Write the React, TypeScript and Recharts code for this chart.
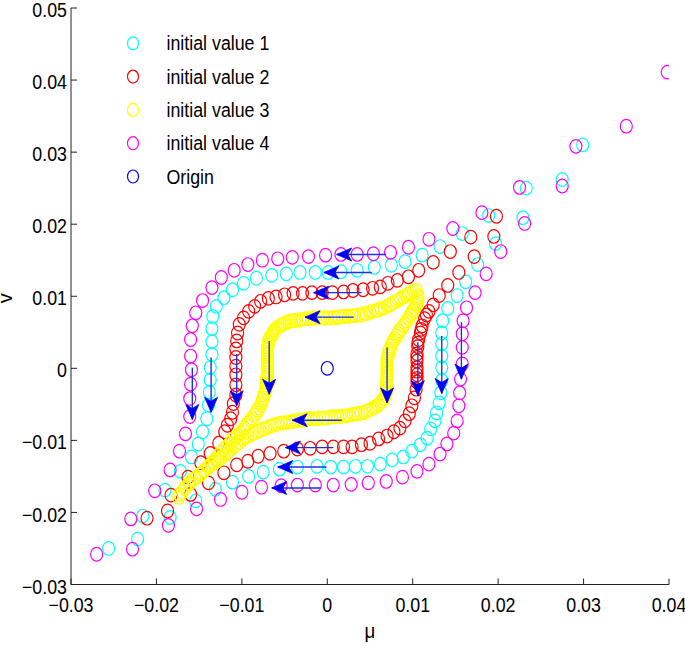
import React from 'react';
import { ScatterChart, Scatter, XAxis, YAxis, Legend } from 'recharts';

const xTicks = [-0.03, -0.02, -0.01, 0, 0.01, 0.02, 0.03, 0.04];
const xTickLabels = ['\u22120.03', '\u22120.02', '\u22120.01', '0', '0.01', '0.02', '0.03', '0.04'];
const yTicks = [-0.03, -0.02, -0.01, 0, 0.01, 0.02, 0.03, 0.04, 0.05];
const yTickLabels = ['\u22120.03', '\u22120.02', '\u22120.01', '0', '0.01', '0.02', '0.03', '0.04', '0.05'];

// initial value 1 (cyan)
const iv1: [number, number][] = [
  [0.0299, 0.0310], [0.0275, 0.0262], [0.0233, 0.0250], [0.0229, 0.0209], [0.0189, 0.0212], [0.0197, 0.0173],
  [0.0158, 0.0187], [0.0176, 0.0144], [0.0132, 0.0169], [0.0162, 0.0120], [0.0111, 0.0157], [0.0152, 0.0101],
  [0.0091, 0.0148],
  [0.0075, 0.0143], [0.0055, 0.0140], [0.0035, 0.0136], [0.0016, 0.0134], [0.0001, 0.0133], [-0.0014, 0.0133],
  [-0.0032, 0.0133], [-0.0048, 0.0131], [-0.0065, 0.0129], [-0.0083, 0.0125], [-0.0098, 0.0118], [-0.0111, 0.0109],
  [-0.0121, 0.0098], [-0.0130, 0.0086], [-0.0134, 0.0072], [-0.0135, 0.0055], [-0.0135, 0.0037], [-0.0135, 0.0019],
  [-0.0137, 0.0001], [-0.0137, -0.0016], [-0.0138, -0.0033], [-0.0139, -0.0051], [-0.0141, -0.0070], [-0.0146, -0.0088],
  [-0.0151, -0.0105], [-0.0159, -0.0123], [-0.0172, -0.0143], [-0.0190, -0.0169], [-0.0216, -0.0205], [-0.0256, -0.0250],
  [-0.0222, -0.0237], [-0.0184, -0.0207], [-0.0154, -0.0184], [-0.0131, -0.0168], [-0.0111, -0.0158], [-0.0092, -0.0150],
  [-0.0075, -0.0144], [-0.0056, -0.0140], [-0.0035, -0.0137], [-0.0012, -0.0136], [0.0004, -0.0137], [0.0019, -0.0137],
  [0.0033, -0.0136], [0.0047, -0.0136], [0.0062, -0.0133], [0.0076, -0.0127], [0.0089, -0.0123], [0.0099, -0.0115],
  [0.0109, -0.0106], [0.0117, -0.0097], [0.0121, -0.0084], [0.0126, -0.0073], [0.0128, -0.0062], [0.0131, -0.0048],
  [0.0133, -0.0034], [0.0134, -0.0017], [0.0134, 0.0001], [0.0134, 0.0017], [0.0134, 0.0034], [0.0134, 0.0049],
  [0.0135, 0.0066], [0.0141, 0.0083],
];

// initial value 2 (red)
const iv2: [number, number][] = [
  [0.0198, 0.0211], [0.0195, 0.0183], [0.0168, 0.0182], [0.0172, 0.0155], [0.0144, 0.0162], [0.0154, 0.0133],
  [0.0124, 0.0147], [0.0141, 0.0115], [0.0107, 0.0136], [0.0131, 0.0101], [0.0095, 0.0127],
  [0.0082, 0.0122], [0.0071, 0.0118], [0.0062, 0.0113], [0.0053, 0.0111], [0.0042, 0.0109], [0.0030, 0.0108],
  [0.0019, 0.0106], [0.0006, 0.0105], [-0.0006, 0.0105], [-0.0018, 0.0105], [-0.0029, 0.0104], [-0.0040, 0.0104],
  [-0.0050, 0.0102], [-0.0060, 0.0099], [-0.0069, 0.0097], [-0.0078, 0.0093], [-0.0085, 0.0086], [-0.0092, 0.0079],
  [-0.0098, 0.0070], [-0.0103, 0.0061], [-0.0105, 0.0049], [-0.0106, 0.0038], [-0.0107, 0.0027], [-0.0107, 0.0015],
  [-0.0107, 0.0003], [-0.0107, -0.0009], [-0.0107, -0.0023], [-0.0107, -0.0037], [-0.0110, -0.0049], [-0.0111, -0.0061],
  [-0.0113, -0.0070], [-0.0117, -0.0079], [-0.0120, -0.0088], [-0.0127, -0.0104], [-0.0137, -0.0118], [-0.0148, -0.0131],
  [-0.0163, -0.0151], [-0.0183, -0.0176], [-0.0211, -0.0208],
  [-0.0187, -0.0198], [-0.0160, -0.0175], [-0.0139, -0.0159], [-0.0121, -0.0145], [-0.0106, -0.0134], [-0.0093, -0.0129],
  [-0.0081, -0.0122], [-0.0067, -0.0118], [-0.0051, -0.0115], [-0.0035, -0.0112], [-0.0020, -0.0111], [-0.0006, -0.0109],
  [0.0007, -0.0109], [0.0019, -0.0109], [0.0029, -0.0109], [0.0040, -0.0106], [0.0050, -0.0104], [0.0060, -0.0098],
  [0.0070, -0.0094], [0.0078, -0.0088], [0.0085, -0.0083], [0.0091, -0.0073], [0.0096, -0.0063], [0.0099, -0.0052],
  [0.0102, -0.0041], [0.0104, -0.0029], [0.0105, -0.0019], [0.0105, -0.0009], [0.0105, 0.0001], [0.0105, 0.0010],
  [0.0105, 0.0020], [0.0106, 0.0030], [0.0107, 0.0040], [0.0109, 0.0049], [0.0111, 0.0059], [0.0114, 0.0069],
  [0.0119, 0.0079], [0.0124, 0.0088],
  [0.0105, -0.0014], [0.0105, -0.0004], [0.0105, 0.0015], [0.0106, 0.0035], [0.0110, 0.0054], [0.0116, 0.0074],
];

// initial value 3 (yellow)
const iv3: [number, number][] = [
  [0.0104, 0.0108], [0.0098, 0.0105], [0.0092, 0.0101], [0.0086, 0.0097], [0.0081, 0.0093], [0.0074, 0.0088],
  [0.0067, 0.0084], [0.0060, 0.0081], [0.0053, 0.0079], [0.0046, 0.0076], [0.0039, 0.0074], [0.0032, 0.0073],
  [0.0025, 0.0072], [0.0018, 0.0072], [0.0011, 0.0070], [0.0004, 0.0070], [-0.0004, 0.0070], [-0.0011, 0.0070],
  [-0.0018, 0.0069], [-0.0025, 0.0069], [-0.0032, 0.0067], [-0.0039, 0.0066], [-0.0044, 0.0065], [-0.0050, 0.0062],
  [-0.0055, 0.0059], [-0.0060, 0.0055], [-0.0063, 0.0051], [-0.0065, 0.0045], [-0.0068, 0.0040], [-0.0069, 0.0033],
  [-0.0070, 0.0026], [-0.0070, 0.0019], [-0.0070, 0.0012], [-0.0070, 0.0005], [-0.0070, -0.0002], [-0.0070, -0.0009],
  [-0.0071, -0.0016], [-0.0071, -0.0023], [-0.0072, -0.0030], [-0.0074, -0.0037], [-0.0076, -0.0044], [-0.0078, -0.0051],
  [-0.0082, -0.0058], [-0.0085, -0.0065], [-0.0090, -0.0072], [-0.0095, -0.0079], [-0.0099, -0.0086], [-0.0105, -0.0093],
  [-0.0111, -0.0099], [-0.0117, -0.0108], [-0.0124, -0.0116], [-0.0131, -0.0126], [-0.0139, -0.0136], [-0.0149, -0.0147],
  [-0.0161, -0.0159], [-0.0173, -0.0175],
  [0.0101, 0.0107], [0.0095, 0.0103], [0.0089, 0.0099], [0.0084, 0.0095], [0.0077, 0.0091], [0.0071, 0.0087],
  [0.0063, 0.0083], [0.0057, 0.0080], [0.0050, 0.0078], [0.0043, 0.0076], [0.0036, 0.0074], [0.0029, 0.0073],
  [0.0021, 0.0072], [0.0014, 0.0071], [0.0008, 0.0071], [0.0000, 0.0070], [-0.0008, 0.0070], [-0.0015, 0.0070],
  [-0.0022, 0.0069], [-0.0029, 0.0068], [-0.0036, 0.0067], [-0.0042, 0.0066], [-0.0047, 0.0064], [-0.0053, 0.0061],
  [-0.0058, 0.0057], [-0.0062, 0.0053], [-0.0064, 0.0048], [-0.0067, 0.0043], [-0.0069, 0.0037], [-0.0070, 0.0030],
  [-0.0070, 0.0022], [-0.0070, 0.0016], [-0.0070, 0.0009], [-0.0070, 0.0002], [-0.0070, -0.0006], [-0.0071, -0.0013],
  [-0.0071, -0.0020], [-0.0072, -0.0027], [-0.0073, -0.0034], [-0.0075, -0.0041], [-0.0077, -0.0048], [-0.0080, -0.0055],
  [-0.0083, -0.0062], [-0.0088, -0.0069], [-0.0093, -0.0076], [-0.0097, -0.0083], [-0.0102, -0.0090], [-0.0108, -0.0096],
  [-0.0114, -0.0104], [-0.0121, -0.0112], [-0.0128, -0.0121], [-0.0135, -0.0131], [-0.0144, -0.0142], [-0.0155, -0.0153],
  [-0.0167, -0.0167],
  [0.0106, 0.0101], [0.0106, 0.0094], [0.0104, 0.0087], [0.0100, 0.0080], [0.0097, 0.0073], [0.0093, 0.0066],
  [0.0089, 0.0059], [0.0084, 0.0052], [0.0081, 0.0045], [0.0077, 0.0038], [0.0075, 0.0031], [0.0072, 0.0024],
  [0.0071, 0.0017], [0.0070, 0.0010], [0.0070, 0.0003], [0.0070, -0.0003], [0.0070, -0.0010], [0.0070, -0.0017],
  [0.0069, -0.0024], [0.0069, -0.0031], [0.0068, -0.0038], [0.0064, -0.0045], [0.0060, -0.0051], [0.0054, -0.0055],
  [0.0047, -0.0059], [0.0040, -0.0062], [0.0033, -0.0063], [0.0026, -0.0065], [0.0019, -0.0066], [0.0012, -0.0067],
  [0.0005, -0.0067], [-0.0002, -0.0069], [-0.0009, -0.0069], [-0.0016, -0.0070], [-0.0023, -0.0070], [-0.0030, -0.0072],
  [-0.0037, -0.0073], [-0.0044, -0.0074], [-0.0051, -0.0076], [-0.0058, -0.0077], [-0.0065, -0.0080], [-0.0072, -0.0083],
  [-0.0079, -0.0086], [-0.0086, -0.0090], [-0.0093, -0.0094], [-0.0099, -0.0099], [-0.0106, -0.0105], [-0.0112, -0.0111],
  [-0.0118, -0.0118], [-0.0125, -0.0125], [-0.0132, -0.0131], [-0.0140, -0.0138], [-0.0148, -0.0147], [-0.0158, -0.0155],
  [-0.0166, -0.0165], [-0.0174, -0.0179],
  [0.0106, 0.0098], [0.0105, 0.0090], [0.0102, 0.0083], [0.0099, 0.0076], [0.0095, 0.0069], [0.0091, 0.0062],
  [0.0087, 0.0055], [0.0083, 0.0048], [0.0079, 0.0041], [0.0076, 0.0034], [0.0073, 0.0027], [0.0072, 0.0020],
  [0.0070, 0.0013], [0.0070, 0.0006], [0.0070, 0.0000], [0.0070, -0.0007], [0.0070, -0.0014], [0.0069, -0.0021],
  [0.0069, -0.0028], [0.0069, -0.0035], [0.0066, -0.0042], [0.0062, -0.0048], [0.0057, -0.0053], [0.0051, -0.0057],
  [0.0044, -0.0061], [0.0036, -0.0063], [0.0030, -0.0064], [0.0022, -0.0066], [0.0015, -0.0067], [0.0009, -0.0067],
  [0.0002, -0.0068], [-0.0005, -0.0069], [-0.0012, -0.0070], [-0.0019, -0.0070], [-0.0026, -0.0071], [-0.0033, -0.0072],
  [-0.0040, -0.0074], [-0.0047, -0.0075], [-0.0054, -0.0076], [-0.0061, -0.0078], [-0.0068, -0.0081], [-0.0075, -0.0084],
  [-0.0082, -0.0088], [-0.0089, -0.0092], [-0.0096, -0.0096], [-0.0103, -0.0102], [-0.0109, -0.0108], [-0.0115, -0.0115],
  [-0.0121, -0.0121], [-0.0128, -0.0128], [-0.0136, -0.0134], [-0.0144, -0.0142], [-0.0153, -0.0151], [-0.0162, -0.0160],
  [-0.0170, -0.0172],
];

// initial value 4 (magenta)
const iv4: [number, number][] = [
  [0.0398, 0.0411], [0.0350, 0.0336], [0.0291, 0.0308], [0.0275, 0.0253], [0.0225, 0.0251], [0.0231, 0.0201],
  [0.0181, 0.0216], [0.0203, 0.0162], [0.0147, 0.0194], [0.0186, 0.0131], [0.0119, 0.0179], [0.0173, 0.0105],
  [0.0095, 0.0168],
  [0.0074, 0.0161], [0.0054, 0.0159], [0.0035, 0.0158], [0.0016, 0.0158], [-0.0002, 0.0157], [-0.0022, 0.0155],
  [-0.0041, 0.0154], [-0.0058, 0.0152], [-0.0076, 0.0150], [-0.0093, 0.0144], [-0.0109, 0.0136], [-0.0124, 0.0126],
  [-0.0135, 0.0112], [-0.0146, 0.0094], [-0.0154, 0.0077], [-0.0158, 0.0059], [-0.0160, 0.0040], [-0.0160, 0.0017],
  [-0.0159, -0.0002], [-0.0160, -0.0022], [-0.0161, -0.0042], [-0.0161, -0.0067], [-0.0166, -0.0091], [-0.0173, -0.0115],
  [-0.0184, -0.0141], [-0.0202, -0.0170], [-0.0230, -0.0209], [-0.0270, -0.0258],
  [-0.0228, -0.0251], [-0.0186, -0.0218], [-0.0153, -0.0195], [-0.0125, -0.0182], [-0.0100, -0.0172], [-0.0077, -0.0165],
  [-0.0054, -0.0163], [-0.0035, -0.0162], [-0.0014, -0.0162], [0.0007, -0.0162], [0.0028, -0.0161], [0.0048, -0.0159],
  [0.0069, -0.0157], [0.0088, -0.0151], [0.0105, -0.0143], [0.0119, -0.0133], [0.0132, -0.0119], [0.0140, -0.0105],
  [0.0148, -0.0090], [0.0152, -0.0073], [0.0154, -0.0052], [0.0155, -0.0034], [0.0156, -0.0015], [0.0158, 0.0006],
  [0.0158, 0.0029], [0.0158, 0.0048], [0.0159, 0.0066], [0.0163, 0.0084],
];

const originPts: [number, number][] = [[0, 0]];

// arrows: [x tail, y tail, x tip, y tip]
const arrows: [number, number, number, number][] = [
  [0.0069, 0.0158, 0.0011, 0.0158],
  [0.0052, 0.0133, -0.0004, 0.0133],
  [0.0040, 0.0105, -0.0016, 0.0105],
  [0.0031, 0.0071, -0.0026, 0.0071],
  [0.0017, -0.0072, -0.0041, -0.0072],
  [0.0007, -0.0110, -0.0049, -0.0110],
  [-0.0001, -0.0137, -0.0058, -0.0137],
  [-0.0008, -0.0166, -0.0065, -0.0166],
  [-0.0158, 0.0001, -0.0158, -0.0071],
  [-0.0136, 0.0015, -0.0136, -0.0061],
  [-0.0106, 0.0020, -0.0106, -0.0052],
  [-0.0068, 0.0038, -0.0068, -0.0036],
  [0.0070, 0.0029, 0.0070, -0.0048],
  [0.0106, 0.0036, 0.0106, -0.0038],
  [0.0134, 0.0045, 0.0134, -0.0035],
  [0.0157, 0.0064, 0.0157, -0.0015],
];

const seriesNames = ['initial value 1', 'initial value 2', 'initial value 3', 'initial value 4', 'Origin'];
const seriesColors = ['#00ffff', '#ff0000', '#ffff00', '#ff00ff', '#0000ff'];
const seriesData = [iv1, iv2, iv3, iv4, originPts];

const FONT = '"Liberation Sans", Arial, Helvetica, sans-serif';
const SX = 0.89;

const toObj = (arr: [number, number][]) => arr.map(([x, y]) => ({ x, y }));

const ring = (color: string) => (props: any) => {
  if (props.cx == null || props.cy == null) return <g />;
  return (
    <ellipse cx={props.cx} cy={props.cy} rx={6} ry={6.8} fill="none" stroke={color} strokeWidth={1.2} />
  );
};

const arrowHead = (props: any) => {
  const { cx, cy, payload } = props;
  if (cx == null || cy == null || !payload || !payload.head) return <g />;
  const L = 15;
  const W = 6.5;
  const N = 4;
  let d: string;
  if (payload.dir === 'down') {
    d = `M${cx},${cy} L${cx - W},${cy - L} L${cx},${cy - L + N} L${cx + W},${cy - L} Z`;
  } else {
    d = `M${cx},${cy} L${cx + L},${cy - W} L${cx + L - N},${cy} L${cx + L},${cy + W} Z`;
  }
  return <path d={d} fill="#0000f0" stroke="#0000f0" strokeWidth={0.8} />;
};

const SText = ({ x, y, anchor, dy, size, children }: any) => (
  <g transform={`translate(${x} ${y}) scale(${SX} 1)`}>
    <text x={0} y={0} dy={dy} textAnchor={anchor} fontSize={size} fontFamily={FONT} fill="#000">
      {children}
    </text>
  </g>
);

const XTick = (props: any) => {
  const { x, y, payload } = props;
  const label = xTickLabels[xTicks.indexOf(payload.value)] ?? String(payload.value);
  return <SText x={x} y={y} anchor="middle" dy="0.71em" size={20}>{label}</SText>;
};

const YTick = (props: any) => {
  const { x, y, payload } = props;
  const label = yTickLabels[yTicks.indexOf(payload.value)] ?? String(payload.value);
  return <SText x={x} y={y + 2} anchor="end" dy="0.355em" size={20}>{label}</SText>;
};

const XLabel = (props: any) => {
  const vb = props.viewBox || {};
  return <SText x={vb.x + vb.width / 2} y={vb.y + 53} anchor="middle" dy={0} size={21}>μ</SText>;
};

const YLabel = (props: any) => {
  const vb = props.viewBox || {};
  const X = 12;
  const Y = vb.y + vb.height / 2 + 2;
  return (
    <text x={X} y={Y} transform={`rotate(-90 ${X} ${Y})`} textAnchor="middle" fontSize={20} fontFamily={FONT} fill="#000">
      v
    </text>
  );
};

const renderLegend = () => (
  <svg width={300} height={200} style={{ display: 'block' }}>
    {seriesNames.map((n, i) => {
      const cy = 43.3 + i * 33.3;
      return (
        <g key={n}>
          <ellipse cx={133} cy={cy} rx={5.5} ry={6.5} fill="none" stroke={seriesColors[i]} strokeWidth={1.2} />
          <SText x={166.5} y={cy + 7} anchor="start" dy={0} size={20}>{n}</SText>
        </g>
      );
    })}
  </svg>
);

const axisStroke = { stroke: '#222', strokeWidth: 1 };

export default function App() {
  return (
    <div style={{ position: 'absolute', left: 0, top: 0, width: 685, height: 646, background: '#fff' }}>
      <ScatterChart width={685} height={646} margin={{ top: 8, right: 16, bottom: 0, left: 0 }}>
        <XAxis
          xAxisId="b"
          type="number"
          dataKey="x"
          domain={[-0.03, 0.04]}
          ticks={xTicks}
          interval={0}
          allowDataOverflow
          height={61.5}
          tickSize={-6}
          tickMargin={19}
          axisLine={axisStroke}
          tickLine={axisStroke}
          tick={<XTick />}
          label={<XLabel />}
        />
        <XAxis
          xAxisId="t"
          orientation="top"
          type="number"
          dataKey="x"
          domain={[-0.03, 0.04]}
          ticks={xTicks}
          interval={0}
          allowDataOverflow
          height={0}
          tickSize={-6}
          axisLine={axisStroke}
          tickLine={axisStroke}
          tick={() => <g />}
        />
        <YAxis
          yAxisId="l"
          type="number"
          dataKey="y"
          domain={[-0.03, 0.05]}
          ticks={yTicks}
          interval={0}
          allowDataOverflow
          width={71}
          tickSize={-6}
          tickMargin={10}
          axisLine={axisStroke}
          tickLine={axisStroke}
          tick={<YTick />}
          label={<YLabel />}
        />
        <YAxis
          yAxisId="r"
          orientation="right"
          type="number"
          dataKey="y"
          domain={[-0.03, 0.05]}
          ticks={yTicks}
          interval={0}
          allowDataOverflow
          width={0}
          tickSize={-6}
          axisLine={axisStroke}
          tickLine={axisStroke}
          tick={() => <g />}
        />
        <Legend
          layout="vertical"
          align="center"
          verticalAlign="middle"
          wrapperStyle={{ left: 0, top: 0, width: 300, height: 200 }}
          content={renderLegend}
        />
        {seriesData.map((d, i) => (
          <Scatter
            key={seriesNames[i]}
            name={seriesNames[i]}
            xAxisId="b"
            yAxisId="l"
            data={toObj(d)}
            shape={ring(seriesColors[i])}
            isAnimationActive={false}
          />
        ))}
        {arrows.map((a, i) => (
          <Scatter
            key={'arrow' + i}
            xAxisId="b"
            yAxisId="l"
            data={[
              { x: a[0], y: a[1], head: false },
              { x: a[2], y: a[3], head: true, dir: a[0] === a[2] ? 'down' : 'left' },
            ]}
            line={{ stroke: '#1f2fe6', strokeWidth: 1.4 }}
            lineType="joint"
            shape={arrowHead}
            legendType="none"
            isAnimationActive={false}
          />
        ))}
      </ScatterChart>
    </div>
  );
}
